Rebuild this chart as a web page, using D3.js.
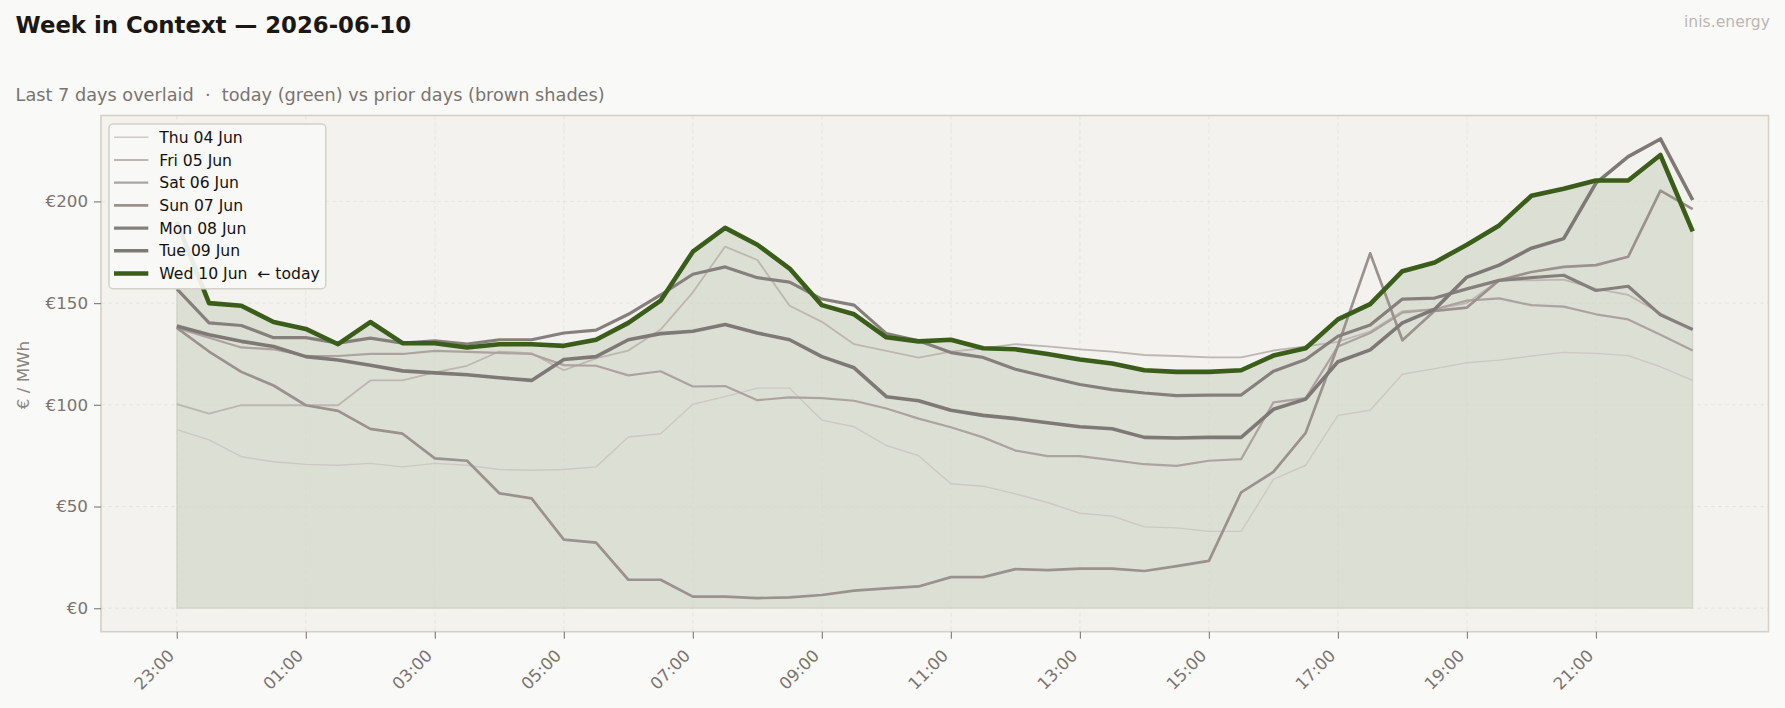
<!DOCTYPE html>
<html><head><meta charset="utf-8">
<script src="https://cdn.jsdelivr.net/npm/d3@7"></script>
<style>
body{margin:0;background:#f9f9f7;}
svg{display:block;font-family:"DejaVu Sans",sans-serif;}
</style>
</head><body>
<svg id="c" width="1785" height="708"></svg>
<script>
// ---- data ----
const slots = ["23:00","23:30","00:00","00:30","01:00","01:30","02:00","02:30","03:00","03:30","04:00","04:30",
  "05:00","05:30","06:00","06:30","07:00","07:30","08:00","08:30","09:00","09:30","10:00","10:30",
  "11:00","11:30","12:00","12:30","13:00","13:30","14:00","14:30","15:00","15:30","16:00","16:30",
  "17:00","17:30","18:00","18:30","19:00","19:30","20:00","20:30","21:00","21:30","22:00","22:30"];
const tickLabels = ["23:00","01:00","03:00","05:00","07:00","09:00","11:00","13:00","15:00","17:00","19:00","21:00"];
const yTicks = [0,50,100,150,200];
const dayNames = ["Thu 04 Jun","Fri 05 Jun","Sat 06 Jun","Sun 07 Jun","Mon 08 Jun","Tue 09 Jun","Wed 10 Jun  \u2190 today"];

const thu = [87.8,82.8,74.5,72,70.7,70.3,71.2,69.5,71.2,70.3,68.2,67.8,68.2,69.5,84.2,85.8,100.3,104,108.2,108.2,92.5,89.2,80,75,61.2,60,56.2,52,46.7,45.3,40,39.5,37.8,37.8,63.3,70.3,94.8,97.3,115,117.8,120.7,122,124,125.8,125.3,124.2,118.7,112];
const fri = [100.3,95.7,99.8,99.8,99.8,99.8,112,112,116,119.2,126.2,125.3,117,122.8,126.7,137,155.3,177.8,171.2,148.7,140.8,129.8,126.5,123.2,126.2,127.8,129.8,128.7,127.3,126.2,124.5,124,123.3,123.3,126.7,128.7,131,136,146,147,150,161.2,161.2,161.5,157,154,145,137];
const sat = [137.8,133,128.2,127.3,124,124,125,125,126.5,126,125.5,125,119.5,119.2,114.5,116.5,109,109.2,102.3,103.7,103.3,102,98.2,93.2,89,84,77.5,74.8,74.8,72.8,70.8,70,72.5,73.3,101.2,103.3,128.7,135.3,145.3,147,151.2,152.3,149,148.3,144.5,142,134.5,126.7];
const sun = [137.8,126.2,116.2,109.5,99.8,97,88.2,85.8,73.7,72.5,56.5,54,33.7,32.3,14,14,5.7,5.7,5,5.3,6.5,8.7,9.8,10.7,15.3,15.3,19.2,18.7,19.5,19.5,18.3,20.7,23.3,57,67,86.2,129,174.5,131.7,146.2,147.8,161.2,165.3,167.8,168.7,172.8,205.3,196.2];
const mon = [157,140.3,139,133,133,130.3,132.8,130.3,131.5,129.8,132,132,135.3,136.7,144.5,154,164.2,167.8,162.5,160.3,152,149,135,131.5,125.7,123.3,117.5,113.7,110,107.5,105.8,104.5,104.8,104.8,116.5,122.3,133.7,139.2,152,152.5,157,161.2,162.5,163.7,156.2,158.3,144.2,137];
const tue = [138.7,134.5,131.2,128.7,123.7,122,119.5,116.7,115.7,114.8,113.3,112,122.3,123.7,132,135,136.2,139.5,135.3,132,123.7,118.2,104,102,97.3,94.8,93.2,91.2,89.2,88.2,84,83.7,84,84,97.8,102.8,121.2,127,140.3,147,162.8,168.7,177,181.7,209,222,230.7,200.7];
const wed = [190,150,148.7,140.7,137.3,129.8,140.7,130.3,130.3,128.2,129.8,129.8,129,132,140.3,151.2,175.3,187,178.7,167,149,144.5,133.2,131.2,132,127.8,127.3,125,122.3,120.3,117,116.2,116.2,117,124.2,127.8,142,149.5,165.7,170,178.7,188.2,202.8,206.2,210.3,210.3,222.8,185.3];

const seriesValues = [thu, fri, sat, sun, mon, tue, wed];
const seriesColors = ["#cdc8c3","#bdb6b1","#aca39f","#9b928d","#86807c","#7f7976","#3a5e19"];
const seriesWidths = [1.4, 1.8, 2.2, 2.7, 3.2, 3.6, 4.6];

// ---- layout ----
const svg = d3.select("#c");
const L = 101, R = 1768.5, T = 115.5, B = 631.7;
svg.append("rect").attr("width",1785).attr("height",708).attr("fill","#f9f9f7");

const hours = slots.map((s,i)=>i*0.5);
const xMax = d3.max(hours), xPad = xMax*0.05;
const x = d3.scaleLinear().domain([-xPad, xMax + xPad]).range([L, R]);
const M = d3.max(seriesValues.flat());
const y = d3.scaleLinear().domain([-0.05*M, 1.05*M]).range([B, T]);

// axes background
svg.append("rect").attr("x",L).attr("y",T).attr("width",R-L).attr("height",B-T).attr("fill","#f3f2ee");

// fill under today
const area = d3.area().x((d,i)=>x(hours[i])).y0(y(0)).y1(d=>y(d));
svg.append("path").datum(wed).attr("d",area)
  .attr("fill","#3a5e19").attr("fill-opacity",0.12)
  .attr("stroke","#3a5e19").attr("stroke-opacity",0.1).attr("stroke-width",1.5);

// grid
const tickHours = tickLabels.map(t=>hours[slots.indexOf(t)]);
const grid = svg.append("g").attr("stroke","#d8d4cc").attr("stroke-opacity",0.45).attr("stroke-width",0.9).attr("stroke-dasharray","4,3");
tickHours.forEach(h=>grid.append("line").attr("x1",x(h)).attr("x2",x(h)).attr("y1",T).attr("y2",B));
yTicks.forEach(v=>grid.append("line").attr("x1",L).attr("x2",R).attr("y1",y(v)).attr("y2",y(v)));

// lines
const line = d3.line().x((d,i)=>x(hours[i])).y(d=>y(d)).curve(d3.curveLinear);
seriesValues.forEach((vals,k)=>{
  svg.append("path").datum(vals).attr("d",line).attr("fill","none")
    .attr("stroke",seriesColors[k]).attr("stroke-width",seriesWidths[k])
    .attr("stroke-linejoin","round").attr("stroke-linecap","butt");
});

// spines
svg.append("rect").attr("x",L).attr("y",T).attr("width",R-L).attr("height",B-T)
  .attr("fill","none").attr("stroke","#d3cfc9").attr("stroke-width",1.6);

// y axis
const yAxis = d3.axisLeft(y).tickValues(yTicks).tickSize(7).tickPadding(6).tickFormat(v=>"\u20ac"+v);
const gy = svg.append("g").attr("transform",`translate(${L},0)`).call(yAxis);
gy.select(".domain").remove();
gy.selectAll(".tick line").attr("stroke","#8a8480").attr("stroke-width",1.2);
gy.selectAll(".tick text").attr("fill","#7a7470").attr("font-size","16.7px").attr("font-family","DejaVu Sans");

// x axis
const xAxis = d3.axisBottom(x).tickValues(tickHours).tickSize(7).tickFormat((h,i)=>tickLabels[i]);
const gx = svg.append("g").attr("transform",`translate(0,${B})`).call(xAxis);
gx.select(".domain").remove();
gx.selectAll(".tick line").attr("stroke","#8a8480").attr("stroke-width",1.2);
gx.selectAll(".tick text").attr("fill","#7a7470").attr("font-size","16.7px").attr("font-family","DejaVu Sans")
  .attr("text-anchor","end").attr("dy",null).attr("y",null)
  .attr("transform","translate(-2,25) rotate(-45)");

// y label
svg.append("text").attr("transform","translate(29,375) rotate(-90)").attr("text-anchor","middle")
  .attr("fill","#8a8480").attr("font-size","16.7px").text("\u20ac / MWh");

// title etc
svg.append("text").attr("x",15.6).attr("y",33.3).attr("font-weight","bold").attr("font-size","22.8px")
  .attr("fill","#1a1714").text("Week in Context \u2014 2026-06-10");
svg.append("text").attr("x",15.6).attr("y",101).attr("font-size","17.7px").attr("fill","#7a7470")
  .attr("xml:space","preserve").style("white-space","pre")
  .text("Last 7 days overlaid  \u00b7  today (green) vs prior days (brown shades)");
svg.append("text").attr("x",1770).attr("y",27).attr("text-anchor","end").attr("font-size","15.6px")
  .attr("fill","#bcb7b2").text("inis.energy");

// legend
const lg = svg.append("g");
lg.append("rect").attr("x",109).attr("y",124).attr("width",216.7).attr("height",164.7).attr("rx",4)
  .attr("fill","#f8f8f6").attr("fill-opacity",0.92).attr("stroke","#d4d0ca").attr("stroke-width",1.5);
dayNames.forEach((n,k)=>{
  const cy = 137.3 + k*22.7;
  lg.append("line").attr("x1",114).attr("x2",148.3).attr("y1",cy).attr("y2",cy)
    .attr("stroke",seriesColors[k]).attr("stroke-width",seriesWidths[k]);
  lg.append("text").attr("x",159.3).attr("y",cy).attr("dy","0.36em").attr("font-size","15.6px")
    .attr("fill","#111").style("white-space","pre").text(n);
});
</script>
</body></html>
